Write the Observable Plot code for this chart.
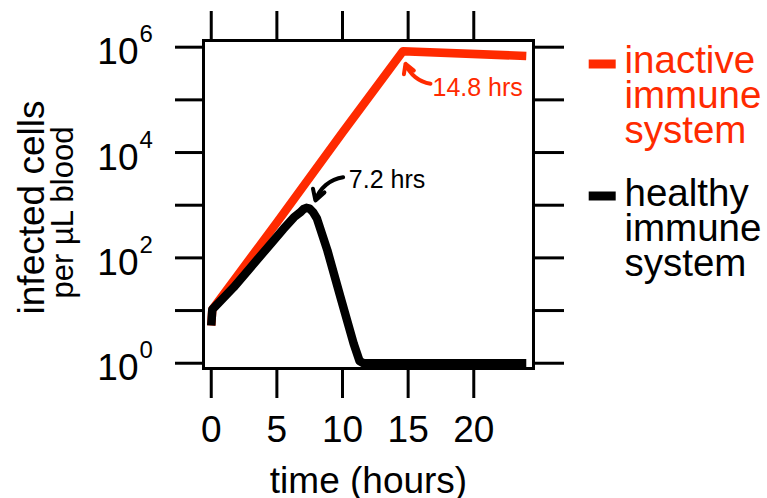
<!DOCTYPE html>
<html>
<head>
<meta charset="utf-8">
<script src="https://cdn.jsdelivr.net/npm/d3@7"></script>
<script src="https://cdn.jsdelivr.net/npm/@observablehq/plot@0.6"></script>
<style>
  html, body { margin: 0; padding: 0; background: white; }
  svg { display: block; }
</style>
</head>
<body>
<script>
// time (hours) and infected cells per µL blood
const inactiveT = [0, 0.08, 5, 10, 14.6, 24];
const inactiveV = [5.2, 10.5, 470, 24000, 840000, 680000];

const healthyT = [0, 0.08, 1.7, 3, 4.3, 5.5, 6.3, 6.8, 7.05, 7.25, 7.5, 7.75, 8.05, 8.85, 9.85, 10.85, 11.3, 11.6, 24];
const healthyV = [5.2, 10.5, 27.5, 66, 158, 355, 590, 741, 850, 890, 860, 740, 560, 138, 17.8, 2.35, 1.1, 1.0, 1.0];

const xTicks = [0, 5, 10, 15, 20];
const yTicks = [1, 10, 100, 1e3, 1e4, 1e5, 1e6];
const yLabelTicks = [1, 1e2, 1e4, 1e6];
const yExponents = ["0", "2", "4", "6"];

const seriesNames = ["inactive\nimmune\nsystem", "healthy\nimmune\nsystem"];
const seriesColors = ["#ff2a00", "#000000"];

// annotations: peak arrows and labels
const annoLabels = ["14.8 hrs", "7.2 hrs"];
const annoTextT = [16.93, 10.56];
const annoTextV = [1.21e5, 2140];
const arrowTailT = [16.7, 10.05];
const arrowTailV = [2.02e5, 3400];
const arrowHeadT = [14.8, 7.94];
const arrowHeadV = [4.84e5, 1230];

const inactive = inactiveT.map((t, i) => ({t, v: inactiveV[i]}));
const healthy = healthyT.map((t, i) => ({t, v: healthyV[i]}));
const annos = annoLabels.map((label, i) => ({
  label, tt: annoTextT[i], tv: annoTextV[i],
  x1: arrowTailT[i], y1: arrowTailV[i], x2: arrowHeadT[i], y2: arrowHeadV[i],
  color: seriesColors[i]
}));
const legend = seriesNames.map((name, i) => ({name, color: seriesColors[i]}));

const swatch = { draw(context) { context.rect(-13.5, -4.5, 27, 9); } };

const font = "Liberation Sans, Arial, Helvetica, sans-serif";

const arrowOpts = { x1: "x1", y1: "y1", x2: "x2", y2: "y2", stroke: "color", strokeWidth: 4, headLength: 14, headAngle: 60 };

const chart = Plot.plot({
  width: 767,
  height: 498,
  marginLeft: 203,
  marginRight: 234,
  marginTop: 40,
  marginBottom: 130,
  style: { fontFamily: font, background: "white", color: "black" },
  x: { domain: [-0.59, 24.55] },
  y: { type: "log", domain: [Math.pow(10, -0.1), Math.pow(10, 6.127)] },
  marks: [
    Plot.axisX({ anchor: "bottom", ticks: xTicks, tickSize: 30, tickPadding: 17, strokeWidth: 3, fontSize: 37, label: null, tickFormat: d => String(d) }),
    Plot.axisX({ anchor: "top", ticks: xTicks, tickSize: 30, strokeWidth: 3, label: null, tickFormat: () => "" }),
    Plot.axisY({ anchor: "left", ticks: yTicks, tickSize: 28, strokeWidth: 3, label: null, tickFormat: () => "" }),
    Plot.axisY({ anchor: "right", ticks: yTicks, tickSize: 30, strokeWidth: 3, label: null, tickFormat: () => "" }),
    Plot.text(yLabelTicks, { y: d => d, text: () => "10", frameAnchor: "left", dx: -65, dy: 17, textAnchor: "end", lineAnchor: "bottom", fontSize: 37 }),
    Plot.text(yLabelTicks, { y: d => d, text: (d, i) => yExponents[i], frameAnchor: "left", dx: -64, dy: -5, textAnchor: "start", lineAnchor: "bottom", fontSize: 24 }),
    Plot.text(["time (hours)"], { frameAnchor: "bottom", dy: 124, textAnchor: "middle", lineAnchor: "bottom", fontSize: 37 }),
    Plot.text(["infected cells"], { frameAnchor: "left", dx: -160, dy: 3, rotate: -90, textAnchor: "middle", lineAnchor: "bottom", fontSize: 37 }),
    Plot.text(["per µL blood"], { frameAnchor: "left", dx: -131, dy: 8, rotate: -90, textAnchor: "middle", lineAnchor: "bottom", fontSize: 31 }),
    Plot.line(inactive, { x: "t", y: "v", stroke: seriesColors[0], strokeWidth: 8.5, strokeLinecap: "butt", strokeLinejoin: "round" }),
    Plot.line(healthy, { x: "t", y: "v", stroke: seriesColors[1], strokeWidth: 8.5, strokeLinecap: "butt", strokeLinejoin: "round" }),
    Plot.frame({ strokeWidth: 3 }),
    Plot.arrow([annos[0]], { ...arrowOpts, bend: 30 }),
    Plot.arrow([annos[1]], { ...arrowOpts, bend: -32 }),
    Plot.text(annos, { x: "tt", y: "tv", text: "label", fill: "color", textAnchor: "start", lineAnchor: "bottom", dx: -1, fontSize: 25 }),
    Plot.dot([legend[0]], { frameAnchor: "top-right", dx: 68.7, dy: 23.5, symbol: swatch, fill: "color", stroke: null, r: 5 }),
    Plot.dot([legend[1]], { frameAnchor: "top-right", dx: 68.7, dy: 155.5, symbol: swatch, fill: "color", stroke: null, r: 5 }),
    Plot.text([legend[0]], { frameAnchor: "top-right", dx: 91, dy: 8, text: "name", fill: "color", textAnchor: "start", lineAnchor: "top", lineHeight: 0.91, fontSize: 38.5 }),
    Plot.text([legend[1]], { frameAnchor: "top-right", dx: 91, dy: 141, text: "name", fill: "color", textAnchor: "start", lineAnchor: "top", lineHeight: 0.91, fontSize: 38.5 })
  ]
});
document.body.appendChild(chart);
</script>
</body>
</html>
